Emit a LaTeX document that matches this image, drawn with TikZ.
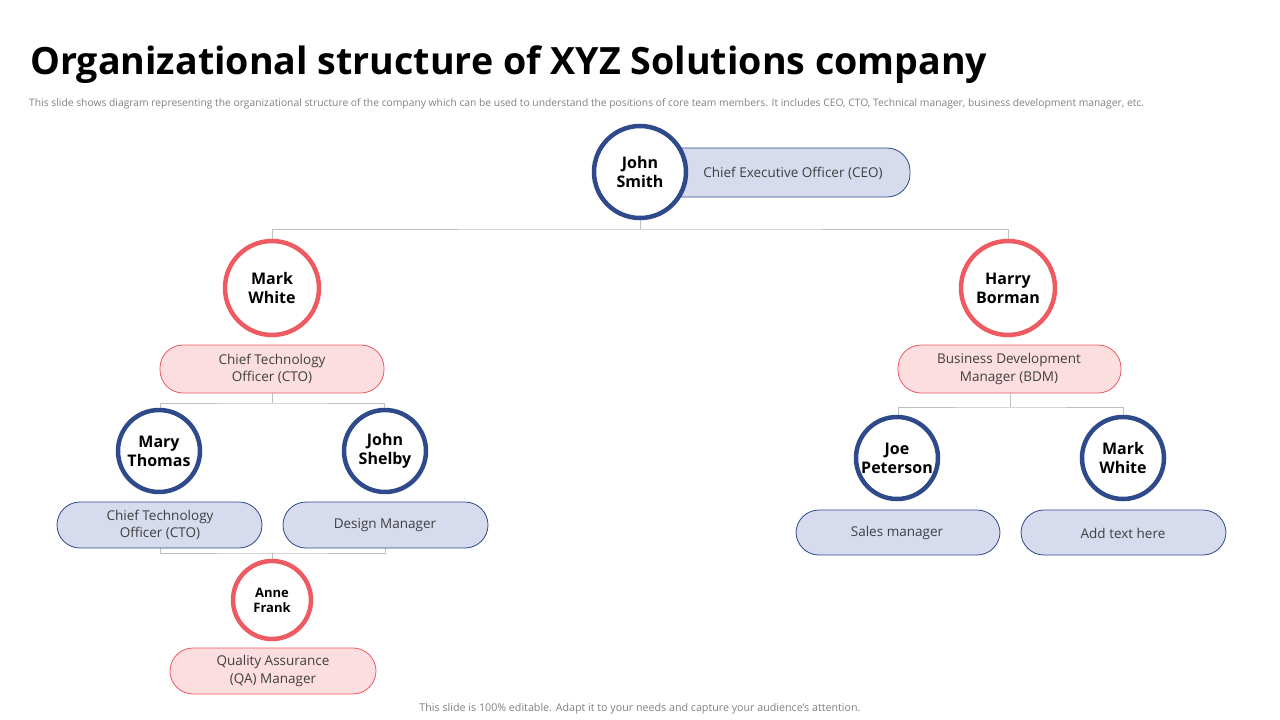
\documentclass[tikz,border=0pt]{standalone}
\usepackage{fontspec}
\setmainfont{Open Sans}
\definecolor{bl}{HTML}{2F4A8A}
\definecolor{blf}{HTML}{D6DCEE}
\definecolor{rd}{HTML}{EE5A62}
\definecolor{rdf}{HTML}{FCDDE0}
\definecolor{ln}{HTML}{BFBFBF}
\definecolor{tx}{HTML}{404040}
\begin{document}
\begin{tikzpicture}[x=1pt,y=-1pt,
 pillb/.style={draw=bl,fill=blf,rounded corners=23pt,line width=0.8pt},
 pillr/.style={draw=rd,fill=rdf,rounded corners=23pt,line width=0.8pt},
 ptext/.style={text=tx,font=\fontsize{13.5}{17.5}\selectfont,align=center},
 cb/.style={circle,draw=bl,fill=white,line width=4.5pt,inner sep=0pt,align=center,font=\fontsize{16}{19}\selectfont\bfseries},
 cr/.style={cb,draw=rd},
 conn/.style={draw=ln,line width=0.8pt}]
\useasboundingbox (0,0) rectangle (1280,720);
\node[anchor=base west,font=\fontsize{37.6}{42}\selectfont\bfseries,inner sep=0pt] (title) at (30,74) {Organizational structure of XYZ Solutions company};
\node[anchor=base west,text=gray,font=\fontsize{10.3}{12}\selectfont,inner sep=0pt] (sub) at (29,106) {This slide shows diagram representing the organizational structure of the company which can be used to understand the positions of core team members. It includes CEO, CTO, Technical manager, business development manager, etc.};
\node[text=gray,font=\fontsize{10.7}{12}\selectfont] (foot) at (640,709) {This slide is 100\% editable. Adapt it to your needs and capture your audience's attention.};
% connectors
\coordinate (j0) at (640,229);
\draw[conn] (640,215) -- (j0) (272,240) |- (j0) -| (1008,240);
\draw[conn] (272,393) -- (272,403) (160,408) |- (272,403) -| (384,408);
\draw[conn] (160,548) |- (272,553) -| (385,548) (272,553) -- (272,560);
\draw[conn] (1010,393) -- (1010,407) (898,416) |- (1010,407) -| (1123,416);
% pills
\draw[pillb] (660,148) rectangle (910,197);
\node[ptext] (ceo) at (793,173) {Chief Executive Officer (CEO)};
\draw[pillr] (160,345) rectangle (384,393);
\node[ptext] (cto) at (272,369) {Chief Technology\\Officer (CTO)};
\draw[pillb] (57,502) rectangle (262,548);
\node[ptext] (cto2) at (160,525) {Chief Technology\\Officer (CTO)};
\draw[pillb] (283,502) rectangle (488,548);
\node[ptext] (dm) at (385,525) {Design Manager};
\draw[pillr] (170,648) rectangle (376,694);
\node[ptext] (qa) at (273,671) {Quality Assurance\\(QA) Manager};
\draw[pillr] (898,345) rectangle (1121,393);
\node[ptext] (bdm) at (1009,369) {Business Development\\Manager (BDM)};
\draw[pillb] (796,510) rectangle (1000,555);
\node[ptext] (sm) at (897,533) {Sales manager};
\draw[pillb] (1021,510) rectangle (1226,555);
\node[ptext] (at) at (1123,533) {Add text here};
% circles
\node[cb,minimum size=92pt] (js) at (640,172) {John\\Smith};
\node[cr,minimum size=94pt] (mw) at (272,288) {Mark\\White};
\node[cr,minimum size=94pt] (hb) at (1008,288) {Harry\\Borman};
\node[cb,minimum size=82pt] (mt) at (159,451) {Mary\\Thomas};
\node[cb,minimum size=82pt] (jsh) at (385,451) {John\\Shelby};
\node[cr,minimum size=78pt,font=\fontsize{13}{15}\selectfont\bfseries] (af) at (272,600) {Anne\\Frank};
\node[cb,minimum size=82pt] (jp) at (897,458) {Joe\\Peterson};
\node[cb,minimum size=82pt] (mw2) at (1123,458) {Mark\\White};
\end{tikzpicture}
\end{document}
